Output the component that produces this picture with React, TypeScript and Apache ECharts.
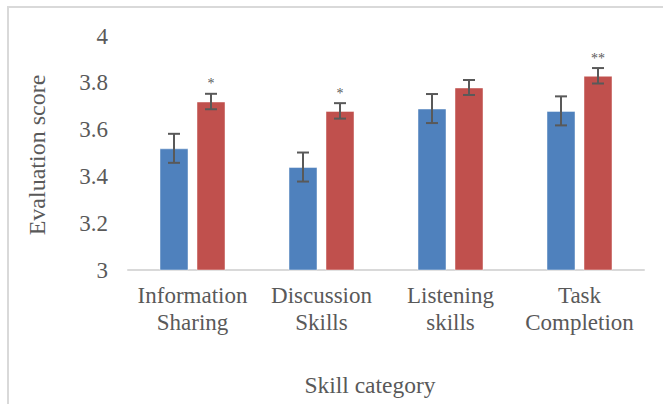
import React, { useEffect, useRef } from "react";
import * as echarts from "echarts";

const categories = ["Information\nSharing", "Discussion\nSkills", "Listening\nskills", "Task\nCompletion"];
const blueValues = [3.52, 3.44, 3.69, 3.68];
const redValues = [3.72, 3.68, 3.78, 3.83];
const blueErrors = [0.062, 0.062, 0.062, 0.062];
const redErrors = [0.033, 0.033, 0.032, 0.033];
const significance = ["*", "*", "", "**"];
const yTicks = { min: 3, max: 4, interval: 0.2 };

const BLUE = "#4F81BD";
const RED = "#C0504D";
const TEXT = "#595959";
const FONT = "'Liberation Serif', 'Times New Roman', serif";
const BAR_W = 29;
const GAP = 8;

export default function App() {
  const ref = useRef<HTMLDivElement>(null);
  useEffect(() => {
    if (!ref.current) return;
    const chart = echarts.init(ref.current, undefined, { renderer: "svg" });

    const errData = (vals: number[], errs: number[], side: number) =>
      vals.map((v, i) => [i, v, errs[i], side]);

    const renderErr = (params: any, api: any) => {
      const idx = api.value(0);
      const v = api.value(1);
      const e = api.value(2);
      const side = api.value(3);
      const off = side * (BAR_W + GAP) / 2;
      const top = api.coord([idx, v + e]);
      const bot = api.coord([idx, v - e]);
      const x = top[0] + off;
      const style = { stroke: "#595959", lineWidth: 2 };
      const children: any[] = [
        { type: "line", shape: { x1: x, y1: top[1], x2: x, y2: bot[1] }, style },
        { type: "line", shape: { x1: x - 6, y1: top[1], x2: x + 6, y2: top[1] }, style },
        { type: "line", shape: { x1: x - 6, y1: bot[1], x2: x + 6, y2: bot[1] }, style },
      ];
      if (side > 0 && significance[idx]) {
        children.push({
          type: "text",
          style: {
            text: significance[idx],
            x,
            y: top[1] - 10,
            align: "center",
            verticalAlign: "middle",
            fill: TEXT,
            font: `14px ${FONT}`,
          },
        });
      }
      return { type: "group", children };
    };

    chart.setOption({
      animation: false,
      backgroundColor: "#ffffff",
      grid: { left: 128, right: 19, top: 36, bottom: 134 },
      xAxis: {
        type: "category",
        data: categories,
        axisLine: { show: true, lineStyle: { color: "#d9d9d9", width: 2 } },
        axisTick: { show: false },
        axisLabel: {
          color: TEXT,
          fontFamily: FONT,
          fontSize: 23,
          lineHeight: 27,
          margin: 12,
          interval: 0,
        },
      },
      yAxis: {
        type: "value",
        min: yTicks.min,
        max: yTicks.max,
        interval: yTicks.interval,
        axisLine: { show: false },
        axisTick: { show: false },
        splitLine: { show: false },
        axisLabel: { color: TEXT, fontFamily: FONT, fontSize: 23, margin: 20 },
      },
      graphic: [
        {
          type: "rect",
          shape: { x: 8, y: 7, width: 800, height: 600 },
          style: { fill: "none", stroke: "#d9d9d9", lineWidth: 2 },
          silent: true,
          z: -1,
        },
        {
          type: "text",
          x: 37,
          y: 155,
          rotation: Math.PI / 2,
          style: {
            text: "Evaluation score",
            align: "center",
            verticalAlign: "middle",
            fill: TEXT,
            font: `24px ${FONT}`,
          },
        },
        {
          type: "text",
          x: 370,
          y: 385,
          style: {
            text: "Skill category",
            align: "center",
            verticalAlign: "middle",
            fill: TEXT,
            font: `23.5px ${FONT}`,
          },
        },
      ],
      series: [
        {
          type: "bar",
          data: blueValues,
          barWidth: BAR_W,
          barGap: `${(GAP / BAR_W) * 100}%`,
          itemStyle: { color: BLUE, borderColor: "rgba(255,255,255,0.45)", borderWidth: 1 },
        },
        {
          type: "bar",
          data: redValues,
          barWidth: BAR_W,
          barGap: `${(GAP / BAR_W) * 100}%`,
          itemStyle: { color: RED, borderColor: "rgba(255,255,255,0.45)", borderWidth: 1 },
        },
        {
          type: "custom",
          renderItem: renderErr,
          data: errData(blueValues, blueErrors, -1),
          itemStyle: { color: TEXT },
          z: 5,
        },
        {
          type: "custom",
          renderItem: renderErr,
          data: errData(redValues, redErrors, 1),
          itemStyle: { color: TEXT },
          z: 5,
        },
      ],
    });
    return () => chart.dispose();
  }, []);
  return (
    <div
      ref={ref}
      style={{ position: "fixed", left: 0, top: 0, width: 663, height: 404 }}
    />
  );
}
